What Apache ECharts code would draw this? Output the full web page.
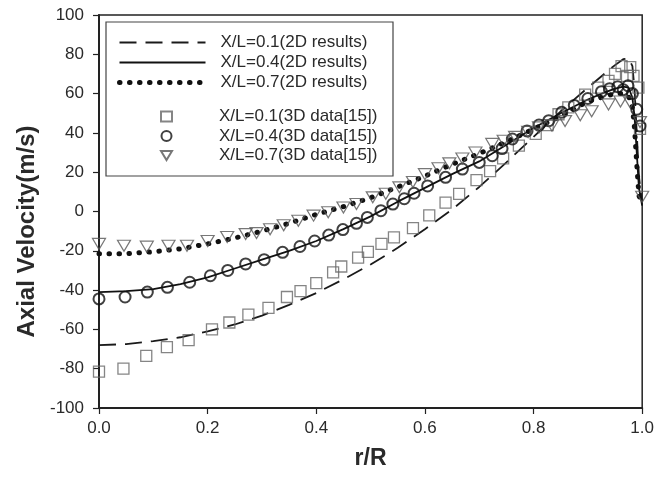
<!DOCTYPE html>
<html>
<head>
<meta charset="utf-8">
<script src="https://cdn.jsdelivr.net/npm/echarts@6/dist/echarts.min.js"></script>
<style>
html,body{margin:0;padding:0;background:#fff;}
#chart{width:657px;height:486px;}
</style>
</head>
<body>
<div id="chart"></div>
<script>
// ---- data ----
const xTicks = [0, 0.2, 0.4, 0.6, 0.8, 1.0];
const yTicks = [-100, -80, -60, -40, -20, 0, 20, 40, 60, 80, 100];

// 2D results (lines), shared r/R positions
const lineX   = [0,0.05,0.1,0.15,0.2,0.25,0.3,0.35,0.4,0.45,0.5,0.55,0.6,0.65,0.7,0.75,0.8,0.85,0.9,0.93,0.95,0.965,0.975,0.982,0.986,0.99,0.994,1.0];
const dash01  = [-68,-67.5,-66,-64,-61,-57.5,-53,-47.5,-41.5,-34.5,-27,-18.5,-9,1,12.5,25,38,51,63,70,74.5,77.5,78,74,62,40,18,4];
const solid04 = [-41,-40.5,-39.5,-37,-33.5,-29,-24.5,-20,-15,-9,-2.5,5,12,19,25.5,34,42.5,50,57,60.5,62.5,63.5,63,58,48,30,12,3];
const dot07   = [-21.5,-21.5,-20.5,-19,-16.5,-13.5,-10,-6,-1.5,2.5,7,12.5,18,24,29.5,35.5,42,48.5,56,58.5,60,60,58.5,53,42,24,8,4];

// 3D data [15] (markers)
const sqX = [0,0.045,0.087,0.125,0.165,0.208,0.24,0.275,0.312,0.346,0.371,0.4,0.431,0.446,0.477,0.495,0.52,0.543,0.578,0.608,0.638,0.663,0.695,0.72,0.744,0.773,0.804,0.826,0.846,0.864,0.895,0.919,0.938,0.95,0.962,0.972,0.978,0.984,0.993,0.996];
const sqY = [-81.5,-80,-73.5,-69,-65.5,-60,-56.5,-52.5,-49,-43.5,-40.5,-36.5,-31,-28,-23.5,-20.5,-16.5,-13.2,-8.5,-2,4.5,9,16,20.5,27,33.5,39.5,44,49.5,53,59.5,63,66.5,70,74,69,73.5,69,63,42];
const ciX = [0,0.048,0.089,0.126,0.167,0.205,0.237,0.27,0.304,0.338,0.37,0.397,0.423,0.449,0.474,0.494,0.519,0.541,0.562,0.58,0.605,0.638,0.669,0.7,0.724,0.742,0.761,0.788,0.81,0.828,0.852,0.875,0.9,0.925,0.94,0.955,0.965,0.974,0.982,0.99,0.996];
const ciY = [-44.5,-43.5,-41,-38.6,-36,-32.7,-30,-26.7,-24.5,-20.8,-17.8,-15,-12,-9.2,-6,-3,0.4,3.8,6.5,9.3,13,17.4,21.6,25,28.4,32,36.9,41,44,46.2,50.5,54,57.5,61,62.5,63.5,62,64,60,52,43.5];
const trX = [0,0.046,0.088,0.128,0.162,0.2,0.236,0.27,0.29,0.315,0.34,0.367,0.395,0.422,0.45,0.474,0.504,0.528,0.553,0.578,0.6,0.625,0.645,0.669,0.693,0.724,0.745,0.766,0.79,0.81,0.834,0.858,0.886,0.907,0.938,0.96,0.978,0.996,1.0];
const trY = [-16.5,-17.4,-17.9,-17.4,-17.4,-15,-13,-11.5,-11,-9,-7,-4.7,-2.1,-0.4,2,3.8,7.2,9,12.3,15,19,22,24.5,27,30,34.4,36,38,40.5,42.8,43.7,46,49,51,54.5,56,55.5,45.5,7.5];

const lineNames   = ['X/L=0.1(2D results)', 'X/L=0.4(2D results)', 'X/L=0.7(2D results)'];
const markerNames = ['X/L=0.1(3D data[15])', 'X/L=0.4(3D data[15])', 'X/L=0.7(3D data[15])'];
const xName = 'r/R';
const yName = 'Axial Velocity(m/s)';

// ---- chart ----
const pairs = (xs, ys) => xs.map((x, i) => [x, ys[i]]);
const FONT = '"Liberation Sans", Arial, sans-serif';
const TXT = '#2a2a2a';

const chart = echarts.init(document.getElementById('chart'), null, {renderer: 'canvas'});
chart.setOption({
  animation: false,
  backgroundColor: '#ffffff',
  grid: {left: 99, right: 13, top: 15, bottom: 78, show: true, borderColor: '#222', borderWidth: 1.5},
  xAxis: {
    type: 'value', min: xTicks[0], max: xTicks[xTicks.length - 1], interval: 0.2,
    axisLine: {show: true, onZero: false, lineStyle: {color: '#222', width: 2}},
    axisTick: {show: true, inside: false, length: 6, lineStyle: {color: '#222', width: 1.2}},
    splitLine: {show: false},
    axisLabel: {fontSize: 17, fontFamily: FONT, color: TXT, margin: 12, formatter: v => v.toFixed(1)},
    name: xName, nameLocation: 'middle', nameGap: 39,
    nameTextStyle: {fontSize: 23, fontWeight: 'bold', fontFamily: FONT, color: TXT}
  },
  yAxis: {
    type: 'value', min: yTicks[0], max: yTicks[yTicks.length - 1], interval: 20,
    axisLine: {show: true, onZero: false, lineStyle: {color: '#222', width: 2}},
    axisTick: {show: true, inside: false, length: 6, lineStyle: {color: '#222', width: 1.2}},
    splitLine: {show: false},
    axisLabel: {fontSize: 17, fontFamily: FONT, color: TXT, margin: 15},
    name: yName, nameLocation: 'middle', nameGap: 58, nameRotate: 90,
    nameTextStyle: {fontSize: 24, fontWeight: 'bold', fontFamily: FONT, color: TXT, padding: [0, 40, 0, 0]}
  },
  legend: [
    {
      data: lineNames, orient: 'vertical', left: 117, top: 34, padding: 0,
      itemWidth: 86, itemHeight: 14, itemGap: 3,
      itemStyle: {opacity: 0},
      lineStyle: {width: 'inherit'},
      textStyle: {fontSize: 17, fontFamily: FONT, color: TXT, padding: [0, 0, 0, 10]},
      selectedMode: false
    },
    {
      data: [
        {name: markerNames[0]},
        {name: markerNames[1]},
        {name: markerNames[2], icon: 'path://M0,0L12,0L6,10Z'}
      ],
      orient: 'vertical', left: 160, top: 108, padding: 0,
      itemWidth: 11, itemHeight: 10, itemGap: 2.5, symbolKeepAspect: true,
      textStyle: {fontSize: 17, fontFamily: FONT, color: TXT, padding: [0, 0, 0, 42]},
      selectedMode: false
    }
  ],
  graphic: [
    {type: 'rect', shape: {x: 106, y: 22, width: 287, height: 154}, style: {fill: 'none', stroke: '#444', lineWidth: 1.2}, silent: true}
  ],
  series: [
    {name: lineNames[0], type: 'line', data: pairs(lineX, dash01), symbol: 'none', showSymbol: false,
     lineStyle: {color: '#1a1a1a', width: 1.8, type: [17, 9]}, z: 3},
    {name: lineNames[1], type: 'line', data: pairs(lineX, solid04), symbol: 'none', showSymbol: false,
     lineStyle: {color: '#111', width: 1.8, type: 'solid'}, z: 3},
    {name: lineNames[2], type: 'line', data: pairs(lineX, dot07), symbol: 'none', showSymbol: false,
     lineStyle: {color: '#111', width: 5, type: [0.5, 9.5], cap: 'round'}, z: 3},
    {name: markerNames[0], type: 'scatter', data: pairs(sqX, sqY), symbol: 'rect', symbolSize: 11,
     itemStyle: {color: 'rgba(255,255,255,0)', borderColor: '#666', borderWidth: 1.3}, z: 4},
    {name: markerNames[1], type: 'scatter', data: pairs(ciX, ciY), symbol: 'circle', symbolSize: 11,
     itemStyle: {color: 'rgba(255,255,255,0)', borderColor: '#111', borderWidth: 2}, z: 4},
    {name: markerNames[2], type: 'scatter', data: pairs(trX, trY), symbol: 'triangle', symbolRotate: 180, symbolSize: [13, 11],
     itemStyle: {color: 'rgba(255,255,255,0)', borderColor: '#555', borderWidth: 1.2}, z: 4}
  ]
});
</script>
</body>
</html>
